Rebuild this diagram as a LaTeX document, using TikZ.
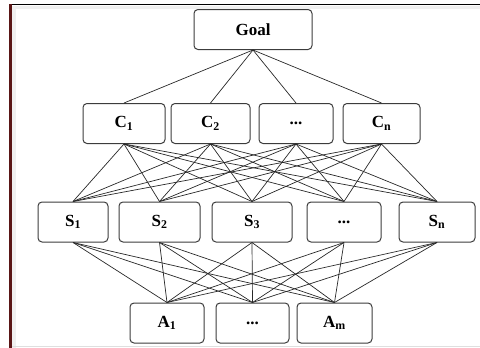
\documentclass[tikz,border=0pt]{standalone}
\usepackage{fontspec}
\setmainfont{Liberation Serif}
\definecolor{framered}{RGB}{90,22,22}
\definecolor{boxline}{RGB}{60,60,60}
\definecolor{linkline}{RGB}{40,40,40}
\begin{document}
\begin{tikzpicture}[x=1pt,y=-1pt,
  box/.style={draw=boxline, line width=1pt, rounded corners=4pt, fill=white,
    minimum height=40pt, inner sep=0pt,
    font=\fontsize{17}{20}\selectfont\bfseries},
  link/.style={draw=linkline, line width=0.7pt}]
\useasboundingbox (0,0) rectangle (480,348);
% page frame
\fill[gray!12] (12,6) rectangle (16,348);
\fill[gray!12] (12,6) rectangle (480,9);
\draw[black, line width=1.6pt] (10,4.5) -- (480,4.5);
\draw[framered, line width=2.2pt] (10.5,4) -- (10.5,348);
\draw[gray!25, line width=1.5pt] (12,346.5) -- (480,346.5);

% goal
\node[box, minimum width=118pt] (g) at (253,29.5) {Goal};
% criteria
\node[box, minimum width=82pt] (c1) at (124,123.5) {C\textsubscript{1}};
\node[box, minimum width=79pt] (c2) at (210.5,123.5) {C\textsubscript{2}};
\node[box, minimum width=74pt] (c3) at (296,123.5) {...};
\node[box, minimum width=77pt] (c4) at (381.5,123.5) {C\textsubscript{n}};
% sub-criteria
\node[box, minimum width=70pt] (s1) at (73,222) {S\textsubscript{1}};
\node[box, minimum width=81pt] (s2) at (159.5,222) {S\textsubscript{2}};
\node[box, minimum width=80pt] (s3) at (252,222) {S\textsubscript{3}};
\node[box, minimum width=74pt] (s4) at (344,222) {...};
\node[box, minimum width=76pt] (s5) at (437,222) {S\textsubscript{n}};
% alternatives
\node[box, minimum width=74pt] (a1) at (167,323) {A\textsubscript{1}};
\node[box, minimum width=73pt] (a2) at (252.5,323) {...};
\node[box, minimum width=75pt] (a3) at (334.5,323) {A\textsubscript{m}};

% links between consecutive levels
\foreach \c in {c1,c2,c3,c4}
  \draw[link] (g.south) -- (\c.north);
\foreach \c in {c1,c2,c3,c4}
  \foreach \s in {s1,s2,s3,s4,s5}
    \draw[link] (\c.south) -- (\s.north);
\foreach \s in {s1,s2,s3,s4,s5}
  \foreach \a in {a1,a2,a3}
    \draw[link] (\s.south) -- (\a.north);
\end{tikzpicture}
\end{document}
